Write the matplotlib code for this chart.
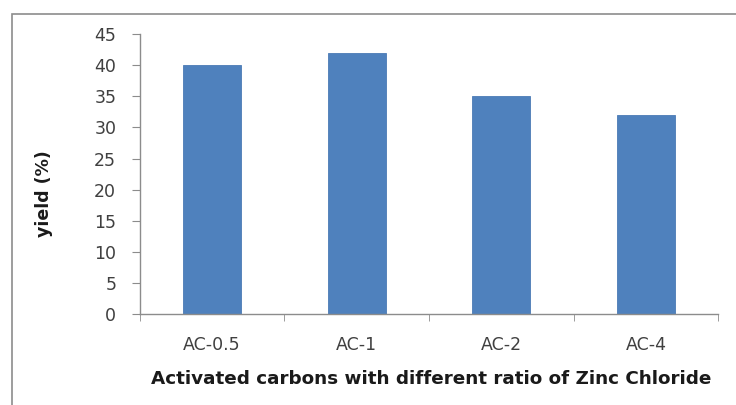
import matplotlib.pyplot as plt
from matplotlib.patches import Rectangle

# data
categories = ["AC-0.5", "AC-1", "AC-2", "AC-4"]
yield_pct = [40, 42, 35, 32]
y_ticks = [0, 5, 10, 15, 20, 25, 30, 35, 40, 45]

plt.rcParams["font.family"] = ["DejaVu Sans"]

fig = plt.figure(figsize=(7.36, 4.05), dpi=100)
ax = fig.add_axes([0.190, 0.2247, 0.786, 0.691])

# outer chart-area border (clipped on right and bottom as in the reference)
fig.patches.append(Rectangle((12 / 736, -0.05), 1.0, 0.05 + 1 - 14 / 405,
                             transform=fig.transFigure, fill=False,
                             edgecolor="#8c8c8c", linewidth=1.2))

x = list(range(len(categories)))
ax.bar(x, yield_pct, width=0.4, color="#4f81bd", edgecolor="#4a7ab5", linewidth=0.6)

ax.set_xlim(-0.5, len(categories) - 0.5)
ax.set_ylim(0, 45)
ax.set_yticks(y_ticks)
ax.set_yticklabels([str(v) for v in y_ticks], fontsize=12.5, color="#404040")

ax.set_xticks(x)
ax.set_xticklabels(categories, fontsize=12.5, color="#404040")
ax.tick_params(axis="x", length=0, pad=16)
# category boundary ticks
ax.set_xticks([i - 0.5 for i in range(len(categories) + 1)], minor=True)
ax.tick_params(axis="x", which="minor", length=5, color="#8c8c8c", direction="out")
ax.tick_params(axis="y", length=6, color="#8c8c8c", direction="out", pad=11)

for side in ("top", "right"):
    ax.spines[side].set_visible(False)
for side in ("left", "bottom"):
    ax.spines[side].set_color("#8c8c8c")
    ax.spines[side].set_linewidth(1.0)

ax.set_ylabel("yield (%)", fontsize=12.5, fontweight="bold", color="#1a1a1a")
ax.yaxis.set_label_coords(-0.150, 0.43)
ax.set_xlabel("Activated carbons with different ratio of Zinc Chloride",
              fontsize=13.2, fontweight="bold", color="#1a1a1a")
ax.xaxis.set_label_coords(0.503, -0.2)

fig.savefig("out.png", dpi=100)
